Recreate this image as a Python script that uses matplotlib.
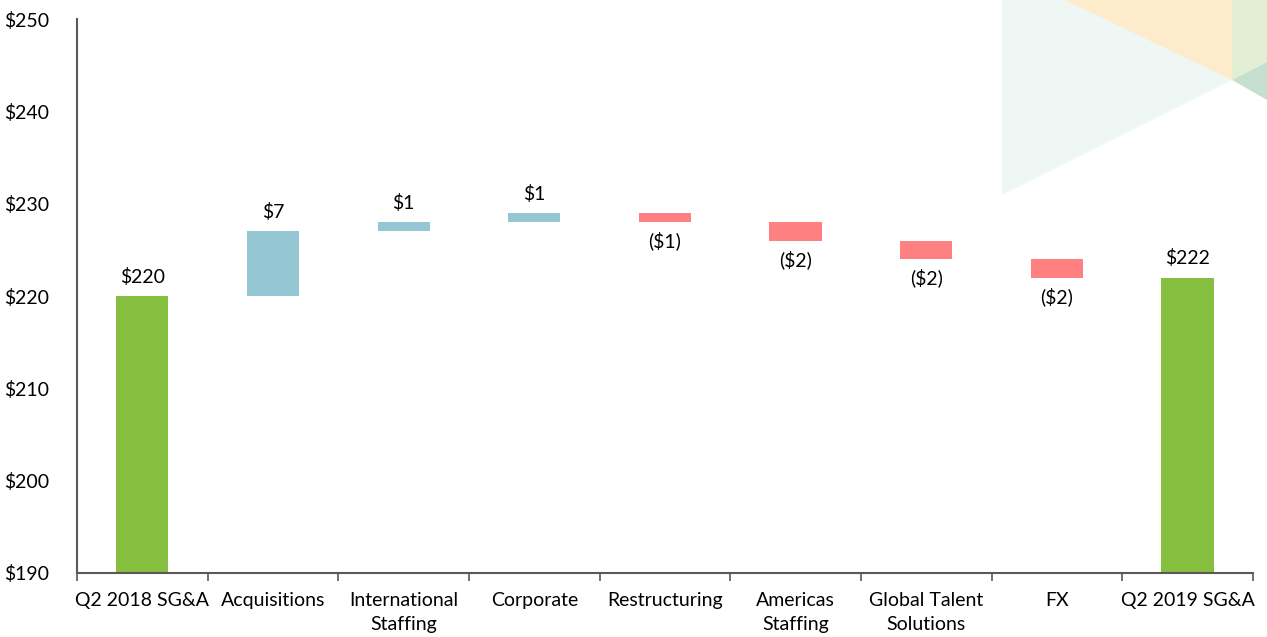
import matplotlib
matplotlib.use('Agg')
import numpy as np
import matplotlib.pyplot as plt
from matplotlib.patches import Polygon

# waterfall data ($M)
categories = ['Q2 2018 SG&A', 'Acquisitions', 'International\nStaffing', 'Corporate',
              'Restructuring', 'Americas\nStaffing', 'Global Talent\nSolutions', 'FX', 'Q2 2019 SG&A']
start_total = 220
changes = [7, 1, 1, -1, -2, -2, -2]
end_total = 222

green = '#86BF40'
blue = '#94C6D4'
red = '#FF8080'

plt.rcParams['font.family'] = ['Lato', 'DejaVu Sans']
fs = 14

fig = plt.figure(figsize=(12.67, 6.37), dpi=100)

# decoration in the top right corner
deco = [
    ([(1002, 0), (1002, 195), (1232, 80), (1232, 0)], '#EEF7F3'),
    ([(1065, 0), (1232, 80), (1232, 0)], '#FDEBCB'),
    ([(1232, 0), (1232, 80), (1267, 62), (1267, 0)], '#E3EFD5'),
    ([(1232, 80), (1267, 100), (1267, 62)], '#C5E0CF'),
]
for pts, col in deco:
    p = [(x / 1267, 1 - y / 637) for x, y in pts]
    fig.patches.append(Polygon(p, closed=True, transform=fig.transFigure,
                               facecolor=col, edgecolor='none', zorder=0))

ax = fig.add_axes([0.0608, 0.1005, 0.928, 0.8695])
ax.patch.set_alpha(0)

x = np.arange(len(categories))
width = 0.4

# totals
ax.bar(x[0], start_total - 190, bottom=190, width=width, color=green)
ax.bar(x[-1], end_total - 190, bottom=190, width=width, color=green)
ax.text(x[0], start_total + 1.1, f'${start_total}', ha='center', va='bottom', fontsize=fs)
ax.text(x[-1], end_total + 1.1, f'${end_total}', ha='center', va='bottom', fontsize=fs)

level = start_total
for i, c in enumerate(changes):
    xi = x[i + 1]
    if c > 0:
        ax.bar(xi, c, bottom=level, width=width, color=blue)
        ax.text(xi, level + c + 1.1, f'${c}', ha='center', va='bottom', fontsize=fs)
    else:
        ax.bar(xi, -c, bottom=level + c, width=width, color=red)
        ax.text(xi, level + c - 1.0, f'(${-c})', ha='center', va='top', fontsize=fs)
    level += c

ax.set_ylim(190, 250)
ax.set_xlim(-0.5, len(categories) - 0.5)
ax.set_yticks(np.arange(190, 251, 10))
ax.set_yticklabels([f'${v}' for v in range(190, 251, 10)], fontsize=fs)
ax.tick_params(axis='y', length=0, pad=20)

ax.set_xticks(x)
ax.set_xticklabels(categories, fontsize=fs, linespacing=1.5)
ax.tick_params(axis='x', length=0, pad=14)
ax.set_xticks(np.arange(-0.5, len(categories), 1), minor=True)
ax.tick_params(axis='x', which='minor', length=6, width=1.2, color='#595959')

for s in ['top', 'right']:
    ax.spines[s].set_visible(False)
for s in ['left', 'bottom']:
    ax.spines[s].set_color('#595959')
    ax.spines[s].set_linewidth(1.5)

fig.savefig('out.png', dpi=100)
